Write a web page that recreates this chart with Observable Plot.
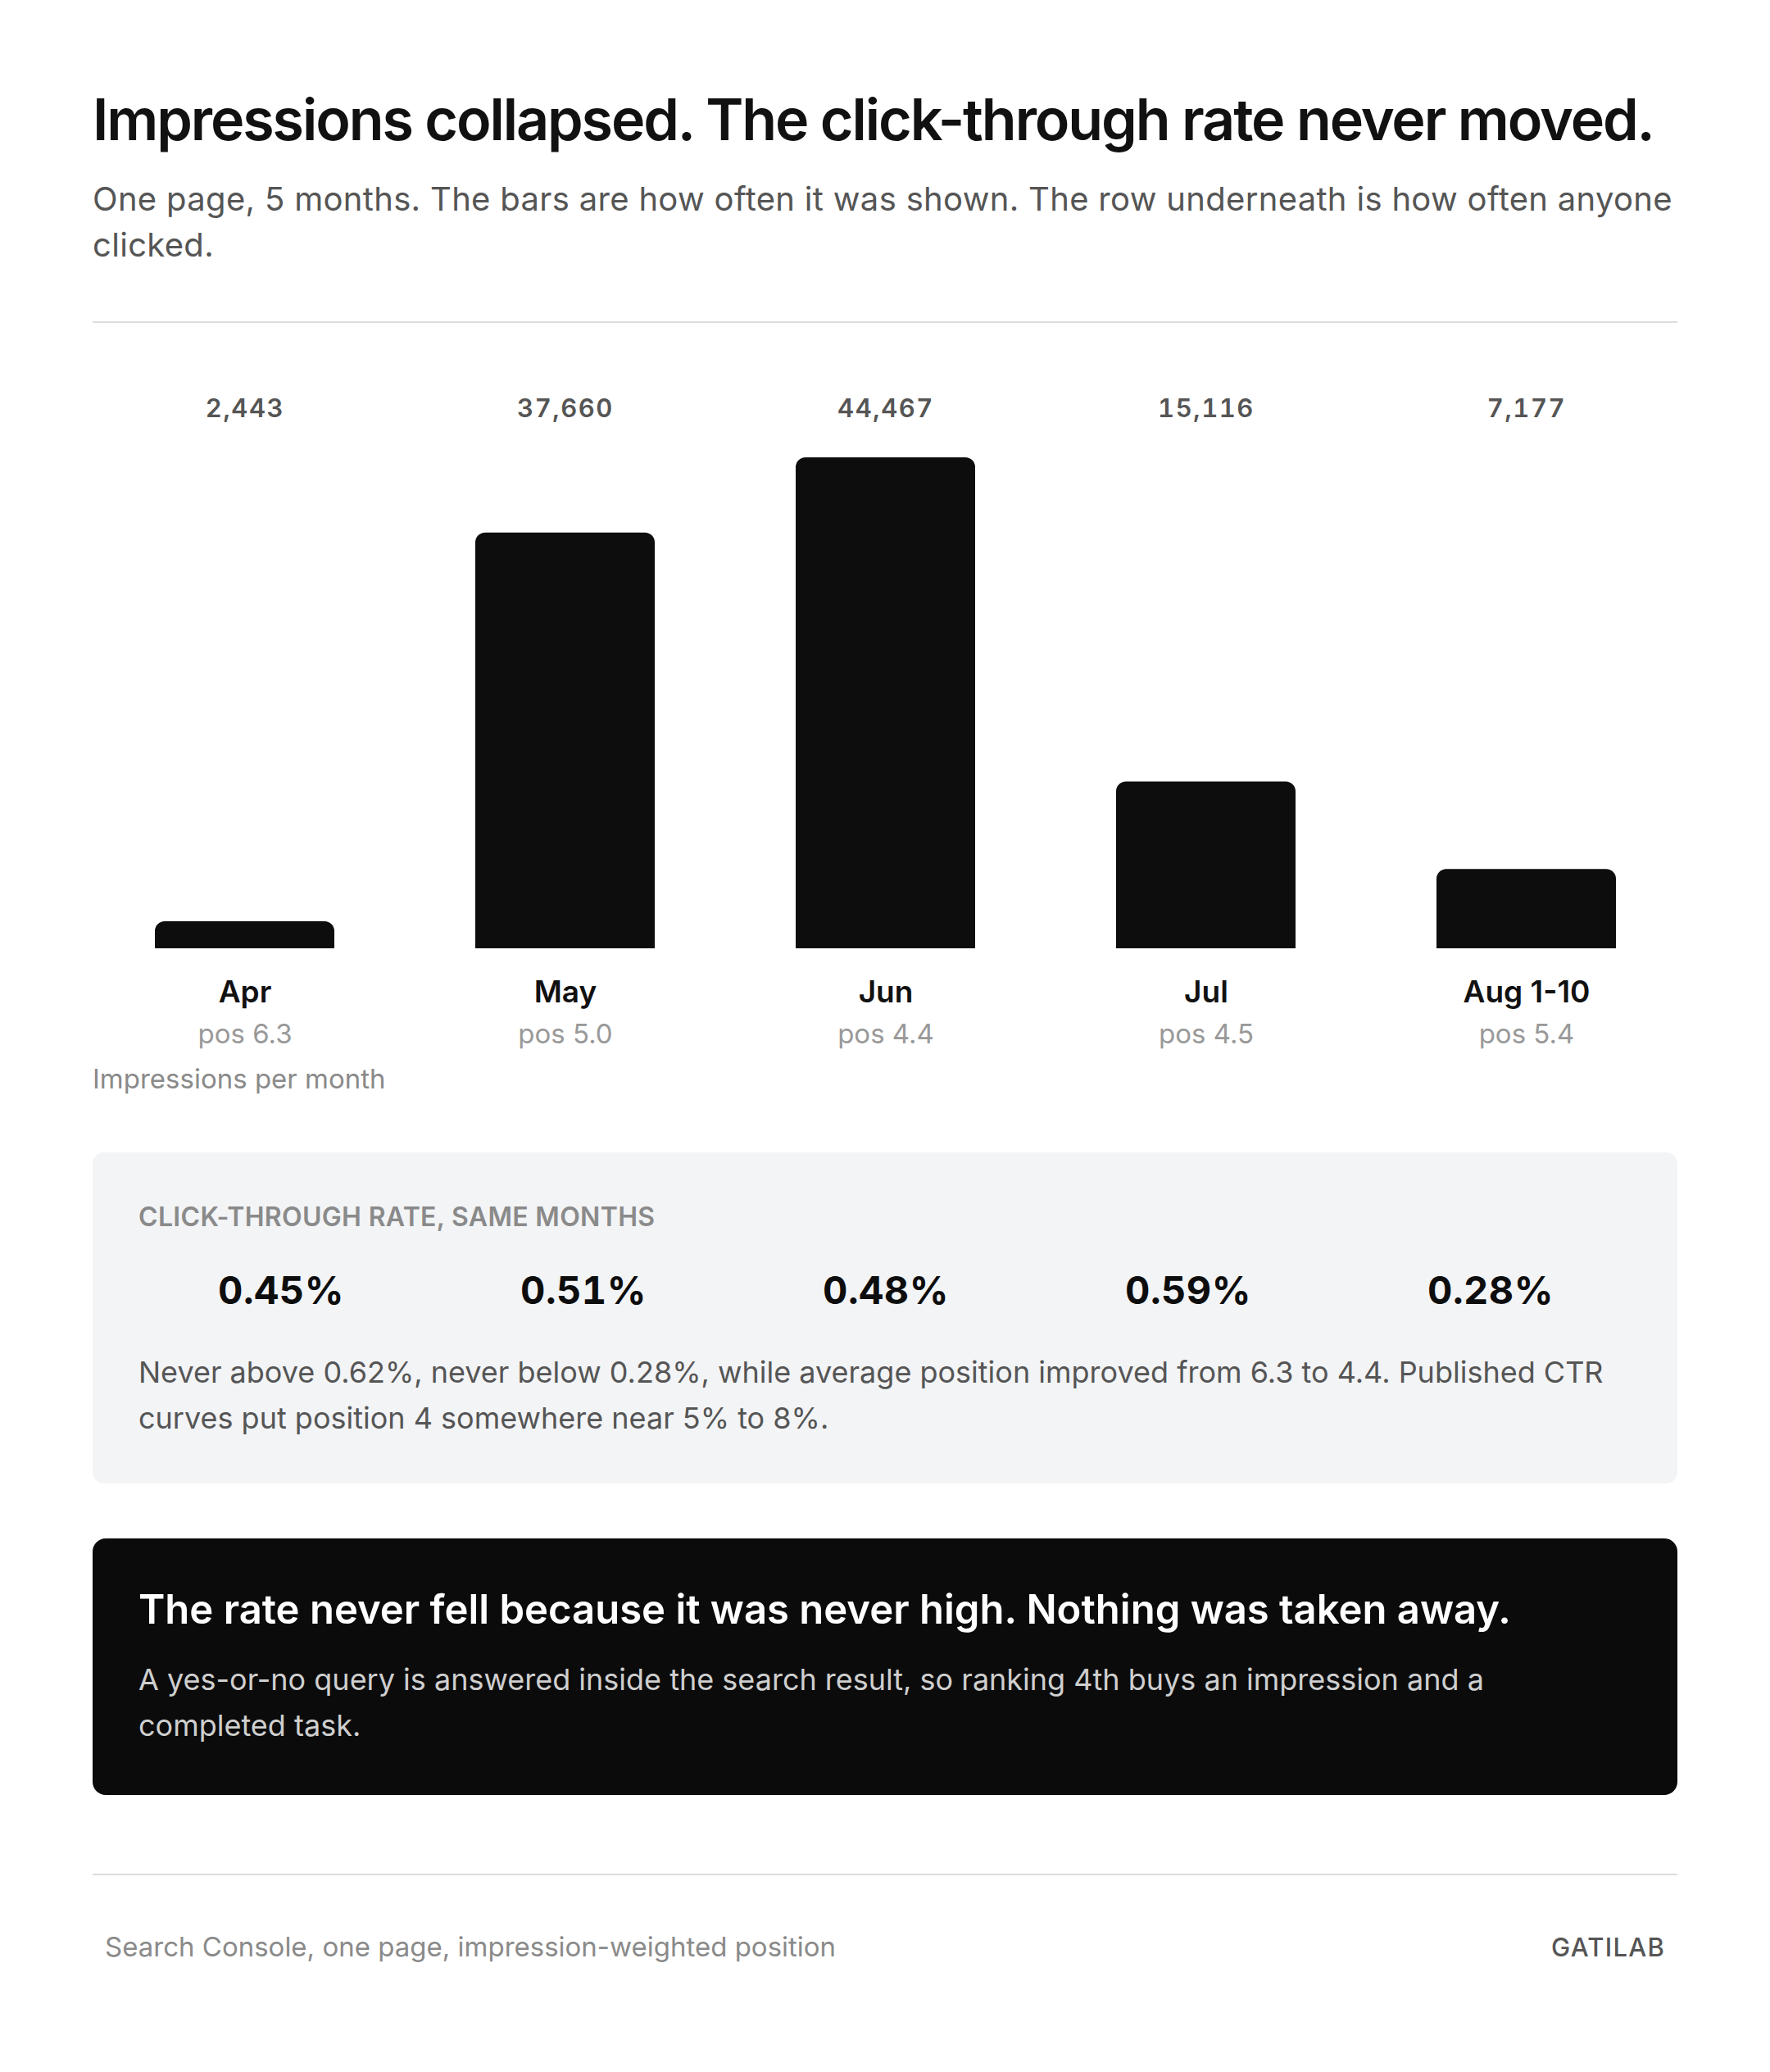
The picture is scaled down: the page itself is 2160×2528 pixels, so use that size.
<!DOCTYPE html>
<html>
<head>
<meta charset="utf-8">
<script src="https://cdn.jsdelivr.net/npm/d3@7"></script>
<script src="https://cdn.jsdelivr.net/npm/@observablehq/plot@0.6"></script>
<style>
  html, body { margin: 0; padding: 0; background: #ffffff; }
  body { width: 2160px; height: 2528px; position: relative; overflow: hidden;
         font-family: Inter, "Noto Sans", "DejaVu Sans", sans-serif; }
  .abs { position: absolute; }
  #title { left: 113px; top: 106px; font-size: 70px; line-height: 80px; font-weight: 600;
           letter-spacing: -0.03em; color: #111; white-space: nowrap; }
  #subtitle { left: 113px; top: 215px; width: 1934px; font-size: 40px; line-height: 56px;
              color: #555; font-weight: 400; letter-spacing: 0.008em; }
  .rule { left: 113px; width: 1934px; height: 2px; background: #dcdcdc; }
  #chart { left: 113px; top: 440px; }
  #chart svg, #ctr svg { overflow: visible; }
  .vals text { letter-spacing: 0.05em; font-variant-numeric: tabular-nums; font-feature-settings: "tnum" 1; }
  #axisnote { left: 113px; top: 1296px; font-size: 33px; line-height: 40px; color: #8a8a8a; }
  #panel { left: 113px; top: 1406px; width: 1934px; height: 404px; background: #f3f4f6; border-radius: 14px; }
  #panelLabel { left: 169px; top: 1465px; font-size: 32px; line-height: 40px; font-weight: 600;
                color: #8a8a8a; letter-spacing: 0.01em; }
  #ctr { left: 113px; top: 1530px; }
  .ctrv text { letter-spacing: 0.01em; font-variant-numeric: tabular-nums; font-feature-settings: "tnum" 1; }
  #note { left: 169px; top: 1646px; width: 1822px; font-size: 36px; line-height: 56px; color: #555; }
  #dark { left: 113px; top: 1877px; width: 1934px; height: 313px; background: #0b0b0b; border-radius: 16px; }
  #darkHead { left: 169px; top: 1934px; font-size: 49px; line-height: 60px; font-weight: 600;
              color: #ffffff; white-space: nowrap; }
  #darkSub { left: 169px; top: 2021px; width: 1720px; font-size: 36px; line-height: 56px; color: #cfcfcf; }
  #foot { left: 128px; top: 2355px; font-size: 33px; line-height: 40px; color: #8a8a8a; }
  #brand { right: 128px; top: 2356px; font-size: 31px; line-height: 40px; color: #555;
           letter-spacing: 0.04em; font-weight: 500; }
</style>
</head>
<body>
<div id="title" class="abs">Impressions collapsed. The click-through rate never moved.</div>
<div id="subtitle" class="abs">One page, 5 months. The bars are how often it was shown. The row underneath is how often anyone clicked.</div>
<div class="abs rule" style="top:392px"></div>
<div id="chart" class="abs"></div>
<div id="axisnote" class="abs">Impressions per month</div>
<div id="panel" class="abs"></div>
<div id="panelLabel" class="abs">CLICK-THROUGH RATE, SAME MONTHS</div>
<div id="ctr" class="abs"></div>
<div id="note" class="abs">Never above 0.62%, never below 0.28%, while average position improved from 6.3 to 4.4. Published CTR curves put position 4 somewhere near 5% to 8%.</div>
<div id="dark" class="abs"></div>
<div id="darkHead" class="abs">The rate never fell because it was never high. Nothing was taken away.</div>
<div id="darkSub" class="abs">A yes-or-no query is answered inside the search result, so ranking 4th buys an impression and a completed task.</div>
<div class="abs rule" style="top:2286px"></div>
<div id="foot" class="abs">Search Console, one page, impression-weighted position</div>
<div id="brand" class="abs">GATILAB</div>

<script>
const months = ["Apr", "May", "Jun", "Jul", "Aug 1-10"];
const impressions = [2443, 37660, 44467, 15116, 7177];
const positions = [6.3, 5.0, 4.4, 4.5, 5.4];
const ctrValues = [0.45, 0.51, 0.48, 0.59, 0.28];

const rows = months.map((m, i) => ({
  month: m, impressions: impressions[i], pos: positions[i], ctr: ctrValues[i]
}));

const fmt = d3.format(",");

const chart = Plot.plot({
  width: 1934,
  height: 850,
  marginTop: 118,
  marginBottom: 133,
  marginLeft: 0,
  marginRight: 0,
  x: { type: "band", domain: months, paddingInner: 0.44, paddingOuter: 0.187, axis: null },
  y: { domain: [0, d3.max(impressions)], axis: null },
  style: { fontFamily: "Inter, 'Noto Sans', sans-serif", background: "transparent" },
  marks: [
    Plot.barY(rows, { x: "month", y: "impressions", fill: "#0d0d0d", rx: 12, insetBottom: -16, clip: true }),
    Plot.text(rows, { x: "month", text: d => fmt(d.impressions), frameAnchor: "top", lineAnchor: "bottom",
      dy: -50, fontSize: 31, fontWeight: 600, fill: "#555555", className: "vals" }),
    Plot.text(rows, { x: "month", text: "month", frameAnchor: "bottom", lineAnchor: "bottom",
      dy: 65, fontSize: 37, fontWeight: 600, fill: "#111111" }),
    Plot.text(rows, { x: "month", text: d => "pos " + d.pos.toFixed(1), frameAnchor: "bottom", lineAnchor: "bottom",
      dy: 115, fontSize: 33, fill: "#999999" })
  ]
});
document.getElementById("chart").appendChild(chart);

const ctrChart = Plot.plot({
  width: 1934,
  height: 80,
  marginTop: 0,
  marginBottom: 0,
  marginLeft: 44.5,
  marginRight: 44.5,
  x: { type: "band", domain: months, padding: 0, axis: null },
  style: { fontFamily: "Inter, 'Noto Sans', sans-serif", background: "transparent" },
  marks: [
    Plot.text(rows, { x: "month", text: d => d.ctr.toFixed(2) + "%", frameAnchor: "top", lineAnchor: "bottom",
      dy: 60, fontSize: 47, fontWeight: 700, fill: "#0d0d0d", className: "ctrv" })
  ]
});
document.getElementById("ctr").appendChild(ctrChart);
</script>
</body>
</html>
